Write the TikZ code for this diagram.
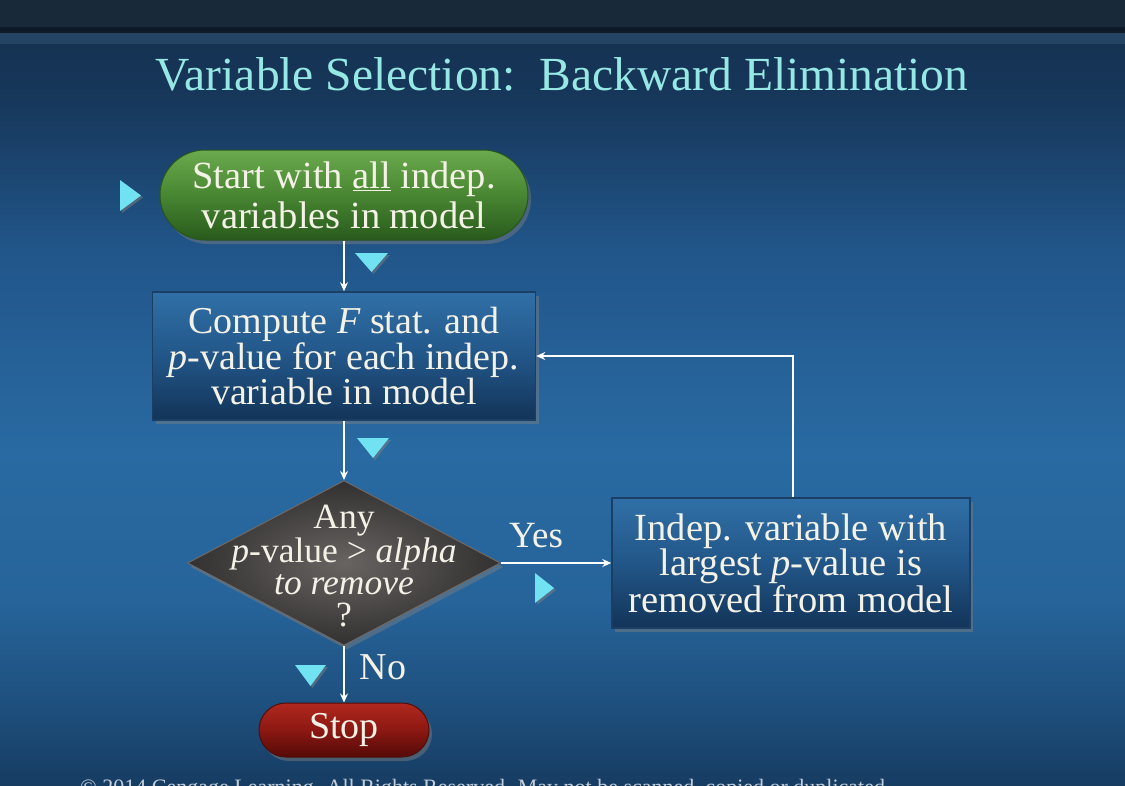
\documentclass[tikz,border=0pt]{standalone}
\usepackage{fontspec}
\setmainfont{Liberation Serif}
\usetikzlibrary{shapes.geometric,shadows,arrows.meta}
\definecolor{bartop}{RGB}{24,42,58}
\definecolor{barline}{RGB}{14,26,38}
\definecolor{barband}{RGB}{36,68,100}
\definecolor{bgA}{RGB}{22,60,98}
\definecolor{bgB}{RGB}{30,80,126}
\definecolor{bgC}{RGB}{38,100,154}
\definecolor{bgD}{RGB}{41,106,162}
\definecolor{bgE}{RGB}{33,86,138}
\definecolor{bgF}{RGB}{23,56,92}
\definecolor{bgG}{RGB}{21,50,82}
\pgfdeclareverticalshading{bgshade}{100bp}{color(0bp)=(bgA); color(25bp)=(bgA); color(30.5bp)=(bgB); color(37.5bp)=(bgC); color(47.5bp)=(bgD); color(61bp)=(bgE); color(71bp)=(bgF); color(75bp)=(bgG); color(100bp)=(bgG)}
\definecolor{titlec}{RGB}{150,232,228}
\definecolor{txtc}{RGB}{244,242,230}
\definecolor{cyanc}{RGB}{112,226,242}
\definecolor{boxtop}{RGB}{48,112,166}
\definecolor{boxmid}{RGB}{34,86,136}
\definecolor{boxbot}{RGB}{18,52,88}
\definecolor{boxedge}{RGB}{26,62,100}
\definecolor{greentop}{RGB}{108,170,78}
\definecolor{greenmid}{RGB}{72,134,50}
\definecolor{greenbot}{RGB}{40,90,28}
\definecolor{greenedge}{RGB}{40,84,30}
\definecolor{redtop}{RGB}{176,40,30}
\definecolor{redmid}{RGB}{140,24,18}
\definecolor{redbot}{RGB}{84,10,8}
\definecolor{rededge}{RGB}{80,14,10}
\definecolor{grayin}{RGB}{104,100,98}
\definecolor{grayout}{RGB}{50,48,48}
\definecolor{grayedge}{RGB}{110,106,104}
\definecolor{footc}{RGB}{196,206,216}
\begin{document}
\begin{tikzpicture}[x=1pt,y=-1pt,
  txt/.style={text=txtc, font=\fontsize{38}{33.5}\selectfont, align=center},
  shad/.style={drop shadow={shadow xshift=3pt,shadow yshift=-4pt,opacity=.45}},
  blubox/.style={rectangle, draw=boxedge, line width=1.5pt, top color=boxtop, bottom color=boxbot, middle color=boxmid, shad, txt, inner sep=0pt},
  startnode/.style={rectangle, rounded corners=45pt, draw=greenedge, line width=1pt, top color=greentop, bottom color=greenbot, middle color=greenmid, shad, txt, inner sep=0pt},
  stopnode/.style={rectangle, rounded corners=27pt, draw=rededge, line width=1pt, top color=redtop, bottom color=redbot, middle color=redmid, shad, txt, inner sep=0pt},
  decision/.style={diamond, draw=grayedge, line width=1pt, inner color=grayin, outer color=grayout, shad, inner sep=0pt},
  conn/.style={draw=white, line width=1.3pt, -{Stealth[length=9pt,width=8pt]}},
  marker/.style={fill=cyanc, drop shadow={shadow xshift=2pt,shadow yshift=-2pt,opacity=.5}}
]
\useasboundingbox (0,0) rectangle (1125,785);
% background
\fill[bartop] (0,0) rectangle (1125,27);
\fill[barline] (0,27) rectangle (1125,33);
\fill[barband] (0,33) rectangle (1125,44);
\fill[shading=bgshade] (0,44) rectangle (1125,785);

% title
\node[anchor=base, text=titlec, font=\fontsize{47.5}{50}\selectfont] (title) at (562,90) {Variable Selection:\ \ Backward Elimination};

% nodes
\node[startnode, font=\fontsize{38.5}{40}\selectfont, minimum width=368pt, minimum height=90pt] (start) at (344,195) {Start with \underline{all} indep.\\variables in model};
\node[blubox, minimum width=383pt, minimum height=128pt] (comp) at (344,356) {Compute \textit{F} stat. and\\\textit{p}-value for each indep.\\variable in model};
\node[decision, minimum width=313pt, minimum height=165pt] (dec) at (344,563) {};
\node[txt, font=\fontsize{35.5}{32}\selectfont] (dectxt) at (344,566) {Any\\\textit{p}-value > \textit{alpha}\\\textit{to remove}\\?};
\node[blubox, font=\fontsize{38.5}{33}\selectfont, minimum width=358pt, minimum height=130pt] (rem) at (791,563) {Indep. variable with\\largest \textit{p}-value is\\removed from model};
\node[stopnode, font=\fontsize{38}{38}\selectfont, minimum width=170pt, minimum height=54pt] (stop) at (344,730) {Stop};

% labels
\node[txt, font=\fontsize{37}{38}\selectfont] (yes) at (536,536) {Yes};
\node[txt, font=\fontsize{38}{38}\selectfont] (no) at (383,667) {No};

% connectors
\draw[conn] (start.south) -- (comp.north);
\draw[conn] (comp.south) -- (dec.north);
\draw[conn] (dec.east) -- (rem.west);
\draw[conn] (dec.south) -- (stop.north);
\coordinate (loopstart) at ([xshift=2pt]rem.north);
\draw[conn] (loopstart) |- (comp.east);

% cyan markers
\fill[marker] (120,180) -- (120,211) -- (141,195.5) -- cycle;
\fill[marker] (355,253) -- (388,253) -- (371.5,272) -- cycle;
\fill[marker] (357,438) -- (389,438) -- (373,458) -- cycle;
\fill[marker] (535,573) -- (535,603) -- (554,588) -- cycle;
\fill[marker] (295,665) -- (326,665) -- (310.5,686) -- cycle;

% footer (cut by the lower edge, as in the reference)
\begin{scope}
\clip (0,0) rectangle (1125,785);
\node[anchor=base west, text=footc, font=\fontsize{22}{24}\selectfont, inner sep=0pt] (foot) at (80,794) {\textcopyright{} 2014 Cengage Learning. All Rights Reserved. May not be scanned, copied or duplicated};
\end{scope}
\end{tikzpicture}
\end{document}
